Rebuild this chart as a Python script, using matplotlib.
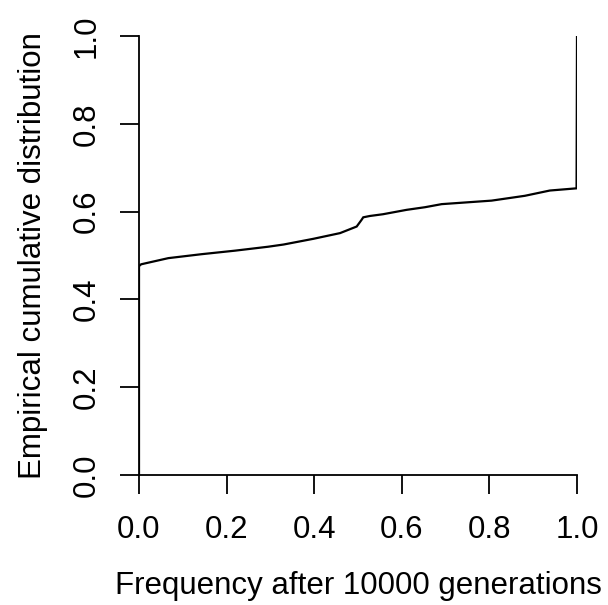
import matplotlib
matplotlib.use("Agg")
import matplotlib.pyplot as plt

plt.rcParams['font.family'] = ['Liberation Sans', 'DejaVu Sans']

# ECDF curve
freq = [0.0, 0.005, 0.067, 0.143, 0.219, 0.295, 0.330, 0.398, 0.459, 0.497,
        0.508, 0.512, 0.527, 0.557, 0.611, 0.653, 0.691, 0.805, 0.881, 0.938,
        0.999, 1.0]
ecdf = [0.476, 0.480, 0.494, 0.503, 0.511, 0.520, 0.525, 0.538, 0.551, 0.566,
        0.581, 0.587, 0.590, 0.594, 0.604, 0.610, 0.617, 0.625, 0.636, 0.648,
        0.653, 1.0]
xticks = [0.0, 0.2, 0.4, 0.6, 0.8, 1.0]
yticks = [0.0, 0.2, 0.4, 0.6, 0.8, 1.0]
xlabel = "Frequency after 10000 generations"
ylabel = "Empirical cumulative distribution"

W, H = 608, 605
fig = plt.figure(figsize=(W / 100, H / 100), dpi=100)
x0, x1 = 139, 577
y0, y1 = 475, 36
ax = fig.add_axes([x0 / W, (H - y0) / H, (x1 - x0) / W, (y0 - y1) / H])

# vertical part at x=0 from 0 up to first value
ax.plot([freq[0], freq[0]], [0, ecdf[0]], color='black', lw=1.6)
ax.plot(freq, ecdf, color='black', lw=1.6, solid_joinstyle='miter')

ax.set_xlim(0, 1)
ax.set_ylim(0, 1)
for s in ['top', 'right']:
    ax.spines[s].set_visible(False)
for s in ['left', 'bottom']:
    ax.spines[s].set_linewidth(1.3)
ax.set_xticks(xticks)
ax.set_yticks(yticks)
ax.set_xticklabels([f"{v:.1f}" for v in xticks])
ax.set_yticklabels([f"{v:.1f}" for v in yticks], rotation=90, va='center')
ax.tick_params(axis='both', direction='out', length=13.7, width=1.3,
               labelsize=22.5)
ax.tick_params(axis='x', pad=15)
ax.tick_params(axis='y', pad=13)
ax.set_xlabel(xlabel, fontsize=22.5, labelpad=18.5)
ax.set_ylabel(ylabel, fontsize=22.5, labelpad=17)

fig.savefig("out.png", dpi=100)
